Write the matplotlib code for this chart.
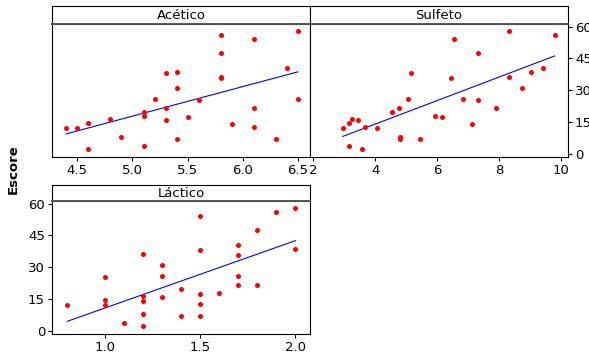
import numpy as np
import matplotlib.pyplot as plt

# dados (30 observações)
escore = [12.1, 12.1, 14.6, 2.3, 16.7, 7.9, 19.8, 17.7, 3.9, 25.9,
          38.3, 21.8, 16.2, 38.8, 31.0, 7.0, 17.2, 25.4, 55.8, 47.6,
          36.2, 35.7, 14.1, 54.3, 21.8, 12.5, 7.0, 40.4, 57.9, 26.0]
acetico = [4.4, 4.5, 4.6, 4.6, 4.8, 4.9, 5.1, 5.1, 5.1, 5.2,
           5.3, 5.3, 5.3, 5.4, 5.4, 5.4, 5.5, 5.6, 5.8, 5.8,
           5.8, 5.8, 5.9, 6.1, 6.1, 6.1, 6.3, 6.4, 6.5, 6.5]
sulfeto = [2.95, 4.05, 3.16, 3.56, 3.24, 4.80, 4.55, 5.93, 3.16, 5.04,
           5.15, 4.76, 3.45, 9.01, 8.73, 4.80, 6.14, 7.31, 9.79, 7.31,
           8.31, 6.43, 7.13, 6.53, 7.91, 3.66, 5.44, 9.40, 8.31, 6.82]
lactico = [0.8, 1.0, 1.0, 1.2, 1.2, 1.2, 1.4, 1.6, 1.1, 1.3,
           1.5, 1.7, 1.3, 2.0, 1.3, 1.4, 1.5, 1.0, 1.9, 1.8,
           1.2, 1.7, 1.2, 1.5, 1.8, 1.5, 1.5, 1.7, 2.0, 1.7]

W, H = 589, 353
fig = plt.figure(figsize=(W / 100, H / 100), dpi=100)
plt.rcParams['font.family'] = 'DejaVu Sans'


def box(l, t, r, b):
    return [l / W, 1 - b / H, (r - l) / W, (b - t) / H]


def painel(pos, strip, titulo, x, xlim, xticks, xlabels, lado_y):
    ax = fig.add_axes(pos)
    ax.scatter(x, escore, s=13, color='red', zorder=3, linewidths=0)
    a, b = np.polyfit(x, escore, 1)
    xs = np.array([min(x), max(x)])
    ax.plot(xs, a * xs + b, color='blue', lw=0.8)
    ax.set_xlim(xlim)
    ax.set_ylim(-1.4, 61.2)
    ax.set_xticks(xticks)
    ax.set_xticklabels(xlabels)
    ax.set_yticks([0, 15, 30, 45, 60])
    ax.tick_params(direction='out', length=3, width=0.8, labelsize=9.5, pad=2)
    if lado_y == 'left':
        ax.yaxis.tick_left()
    elif lado_y == 'right':
        ax.yaxis.tick_right()
    else:
        ax.tick_params(axis='y', left=False, labelleft=False)
    for s in ax.spines.values():
        s.set_linewidth(0.8)
    st = fig.add_axes(strip)
    st.set_xticks([])
    st.set_yticks([])
    for s in st.spines.values():
        s.set_linewidth(0.8)
    st.spines['bottom'].set_linewidth(1.4)
    st.spines['bottom'].set_color('#555555')
    st.text(0.5, 0.45, titulo, ha='center', va='center', fontsize=9.5,
            transform=st.transAxes)
    return ax


painel(box(52, 24, 310, 157), box(52, 6, 310, 24), 'Acético', acetico,
       (4.27, 6.61), [4.5, 5.0, 5.5, 6.0, 6.5], ['4.5', '5.0', '5.5', '6.0', '6.5'], None)
painel(box(310, 24, 568, 157), box(310, 6, 568, 24), 'Sulfeto', sulfeto,
       (1.89, 10.22), [2, 4, 6, 8, 10], ['2', '4', '6', '8', '10'], 'right')
painel(box(52, 201, 310, 334), box(52, 185, 310, 201), 'Láctico', lactico,
       (0.72, 2.077), [1.0, 1.5, 2.0], ['1.0', '1.5', '2.0'], 'left')

fig.text(13 / W, 1 - 169 / H, 'Escore', rotation=90, ha='center', va='center',
         fontsize=9.5, fontweight='bold')

fig.savefig('out.png', dpi=100)
